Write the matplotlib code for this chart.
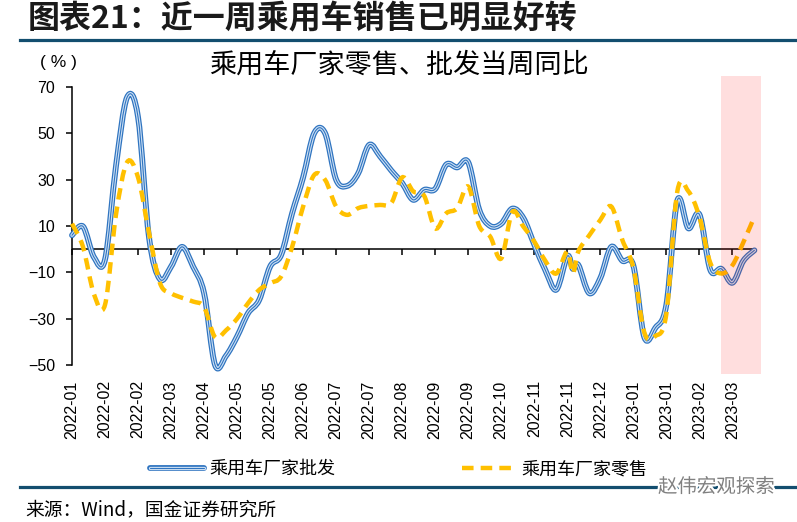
import matplotlib
matplotlib.use("Agg")
import matplotlib.pyplot as plt
from matplotlib.path import Path
from matplotlib.patches import PathPatch, Rectangle
from matplotlib.lines import Line2D
from matplotlib.legend_handler import HandlerTuple
import matplotlib.patheffects as pe
import numpy as np

plt.rcParams['font.family'] = ['Liberation Sans', 'Noto Sans CJK SC', 'DejaVu Sans']
CJK = ['Noto Sans CJK SC', 'DejaVu Sans']

# ---------------- data ----------------
# week offsets from 2022-01-16 (weekly observations)
weeks = list(range(0, 46)) + [45.5] + list(range(46, 63))

wholesale = [6, 9.8, -3.5, -4.5, 36, 65.5, 57, 5, -13, -7.5,
             1, -7.5, -19, -50, -46, -37.7, -27.6, -22, -7.5, -2.5,
             15.5, 31, 50, 50, 30, 27.3, 32.7, 45, 40, 34,
             28.5, 21.3, 25.6, 26, 36.5, 35.3, 37.5, 17, 10, 11,
             17.5, 13.5, 2, -9, -17.5, -3, -8.5, -6.8, -19, -12.5,
             1, -5, -7, -38, -34, -24, 21, 9, 15, -9,
             -8.5, -14.5, -5, -0.5]

retail = [11, 1, -19.5, -24, 15, 37.5, 31, 7, -14.7, -19,
          -21, -22.6, -25, -38, -35, -30, -23.3, -17.6, -14.7, -11.8,
          1, 18.4, 32, 29.9, 18.4, 14.8, 17.7, 18.7, 19.1, 19.8,
          31, 25, 23, 9, 15.5, 17.7, 27, 10, 5.4, -4,
          16, 9.8, 3.3, -5, -10.5, -1, -10.5, -1, 6, 12.6,
          18.4, 4, -8, -36, -37.5, -28, 25, 25, 14, -6,
          -10.5, -7, 3, 14]

tick_weeks = list(range(0, 61, 3))
tick_labels = ['2022-01', '2022-02', '2022-02', '2022-03', '2022-04', '2022-05',
               '2022-05', '2022-06', '2022-07', '2022-07', '2022-08', '2022-09',
               '2022-09', '2022-10', '2022-11', '2022-11', '2022-12', '2023-01',
               '2023-01', '2023-02', '2023-03']
yticks = [-50, -30, -10, 10, 30, 50, 70]
highlight = (59.0, 62.6)   # shaded recent period (weeks)

name_w = '乘用车厂家批发'
name_r = '乘用车厂家零售'


def smooth_path(xs, ys, t=1 / 6):
    """Excel-like smoothed line: cubic Bezier through all points."""
    P = np.column_stack([xs, ys]).astype(float)
    n = len(P)
    verts = [P[0]]
    codes = [Path.MOVETO]
    for i in range(n - 1):
        p0 = P[i - 1] if i > 0 else P[i]
        p1 = P[i]
        p2 = P[i + 1]
        p3 = P[i + 2] if i + 2 < n else P[i + 1]
        c1 = p1 + (p2 - p0) * t
        c2 = p2 - (p3 - p1) * t
        verts += [c1, c2, p2]
        codes += [Path.CURVE4] * 3
    return Path(verts, codes)


BLUE_STYLE = [(4.2, '#2F74C0'), (2.4, '#CFE1F4'), (0.8, '#2F74C0')]

fig = plt.figure(figsize=(7.97, 5.22), dpi=100)
W, H = 797, 522
ax = fig.add_axes([72 / W, 1 - 365 / H, 689 / W, 278 / H])
ax.set_xlim(0, 62.6)
ax.set_ylim(-50, 70)

# wholesale: compound blue line
pw = smooth_path(weeks, wholesale)
for lw, col in BLUE_STYLE:
    ax.add_patch(PathPatch(pw, fill=False, edgecolor=col, lw=lw, zorder=3,
                           clip_on=False, capstyle='round', joinstyle='round'))

# retail: dashed yellow line
pr = smooth_path(weeks, retail)
ax.add_patch(PathPatch(pr, fill=False, edgecolor='#FFC000', lw=3.2, zorder=4,
                       linestyle=(0, (2.6, 1.6)), clip_on=False, capstyle='butt'))

# zero line
ax.hlines(0, weeks[0], weeks[-1], color='black', lw=1.1, zorder=2)

# highlight band
ax.add_patch(Rectangle((highlight[0], -53.9), highlight[1] - highlight[0], 128.6,
                       facecolor=(1, 0, 0, 0.13), edgecolor='none', zorder=6,
                       clip_on=False))

# axes styling
for s in ['top', 'right', 'bottom']:
    ax.spines[s].set_visible(False)
ax.spines['left'].set_linewidth(1.1)
ax.set_yticks(yticks)
ax.tick_params(axis='y', direction='out', length=4, width=1.1, pad=8,
               labelsize=11.5, colors='black')
ax.set_xticks(tick_weeks)
ax.set_xticklabels(tick_labels, rotation=90, fontsize=11.5, va='top')
ax.tick_params(axis='x', length=0, pad=11)

# tick marks on the zero line
sec = ax.secondary_xaxis(50 / 120)
sec.set_xticks(tick_weeks)
sec.xaxis.set_ticks_position('bottom')
sec.tick_params(axis='x', direction='out', length=4, width=1.1, labelbottom=False,
                labeltop=False)
for s in sec.spines.values():
    s.set_visible(False)

# texts
fig.text(28 / W, 1 - 19 / H, '图表21：近一周乘用车销售已明显好转', family=CJK,
         fontsize=23, fontweight='bold', color='#1a1a1a', ha='left', va='center')
fig.add_artist(Line2D([20 / W, 1], [1 - 40 / H] * 2, color='#134E6F', lw=2.3))
fig.text(40 / W, 1 - 62 / H, '( % )', fontsize=12.5, ha='left', va='center')
fig.text(399 / W, 1 - 65 / H, '乘用车厂家零售、批发当周同比', family=CJK, fontsize=19.5,
         ha='center', va='center')

# legend
hw = tuple(Line2D([], [], color=c, lw=l, solid_capstyle='round') for l, c in BLUE_STYLE)
hr = Line2D([], [], color='#FFC000', lw=3.2, linestyle=(0, (2.6, 1.6)))
fig.legend([hw, hr], [name_w, name_r], loc='center',
           bbox_to_anchor=(399 / W, 1 - 469 / H), ncol=2, frameon=False,
           prop={'family': CJK, 'size': 13}, handlelength=3.0,
           handletextpad=0.3, columnspacing=7.0,
           handler_map={tuple: HandlerTuple(ndivide=1, pad=0)})

fig.add_artist(Line2D([20 / W, 1], [1 - 487 / H] * 2, color='#134E6F', lw=2.3))
fig.text(25 / W, 1 - 510 / H, '来源：Wind，国金证券研究所', family=CJK, fontsize=13.5,
         ha='left', va='center')
fig.text(658 / W, 1 - 487 / H, '赵伟宏观探索', family=CJK, fontsize=14, color='#808080',
         ha='left', va='center',
         path_effects=[pe.withStroke(linewidth=3, foreground='white')])

fig.savefig('out.png', dpi=100)
